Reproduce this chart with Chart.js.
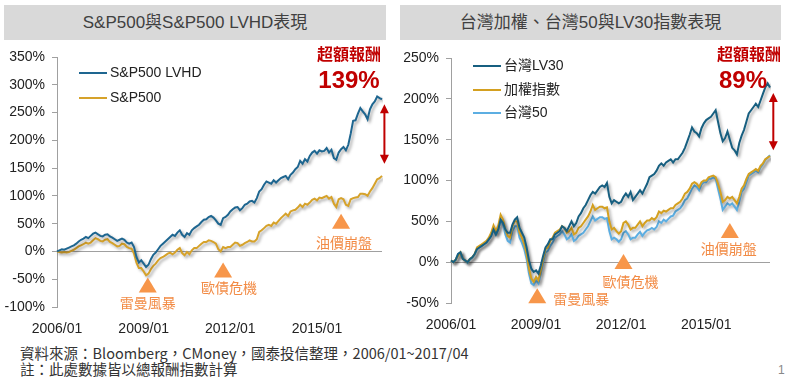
<!DOCTYPE html>
<html>
<head>
<meta charset="utf-8">
<script src="https://cdn.jsdelivr.net/npm/chart.js@4.4.0/dist/chart.umd.min.js"></script>
<style>
  body { margin: 0; background: #fff; width: 786px; height: 377px; position: relative; overflow: hidden;
         font-family: "Liberation Sans", "Noto Sans CJK TC", sans-serif; }
  .title { position: absolute; top: 5px; height: 35px; background: #d9d9d9; color: #404040;
           font-size: 17px; line-height: 35px; text-align: center; }
  canvas { position: absolute; top: 0; }
  .legend { position: absolute; font-size: 14px; color: #222; }
  .legend div { position: absolute; white-space: nowrap; height: 18px; line-height: 18px; }
  .legend span { display: inline-block; width: 28px; height: 2px; vertical-align: middle; margin-right: 3px; }
  .excess { position: absolute; color: #c00000; text-align: center; font-weight: bold; }
  .excess .a { font-family: "Noto Sans CJK TC"; font-size: 16px; line-height: 20px; }
  .excess .b { font-size: 24px; line-height: 28px; margin-top: 3px; }
  .note { position: absolute; left: 20px; font-family: "Noto Sans CJK TC", sans-serif; font-size: 14.5px; color: #333; white-space: nowrap; }
</style>
</head>
<body>
<div class="title" style="left:4px;width:382px">S&amp;P500與S&amp;P500 LVHD表現</div>
<div class="title" style="left:400px;width:381px">台灣加權、台灣50與LV30指數表現</div>
<canvas id="usChart" width="393" height="340" style="left:0"></canvas>
<canvas id="twChart" width="393" height="340" style="left:393px"></canvas>
<div class="legend" id="usLegend" style="left:79px;top:63px"></div>
<div class="legend" id="twLegend" style="left:473px;top:56px"></div>
<div class="excess" style="left:312px;top:43px;width:74px"><div class="a">超額報酬</div><div class="b">139%</div></div>
<div class="excess" style="left:712px;top:43px;width:74px"><div class="a">超額報酬</div><div class="b" style="margin-left:-12px">89%</div></div>
<div class="note" style="top:342px">資料來源：Bloomberg，CMoney，國泰投信整理，2006/01~2017/04</div>
<div class="note" style="top:358px">註：此處數據皆以總報酬指數計算</div>
<div style="position:absolute;left:778px;top:363px;font-size:12px;color:#888">1</div>
<script>
// 月份 2006/01 ~ 2017/04
const months = [];
for (let y = 2006; y <= 2017; y++) {
    for (let m = 1; m <= 12; m++) {
        if (y === 2017 && m > 4) break;
        months.push(y + '/' + String(m).padStart(2, '0'));
    }
}
const xTickLabels = ['2006/01', '2009/01', '2012/01', '2015/01'];

// 美國 (%)
const lvhd = [
    0, 2, 4, 3, 5, 7, 9, 11, 14, 18, 21, 23,
    26, 24, 28, 32, 34, 31, 28, 27, 30, 31, 27, 25,
    22, 19, 21, 23, 21, 16, 14, 16, 8, -10, -20, -16,
    -22, -28, -24, -14, -6, -2, 4, 10, 14, 18, 22, 26,
    30, 28, 34, 38, 30, 26, 33, 30, 38, 42, 45, 48,
    53, 57, 58, 62, 64, 61, 56, 50, 48, 60, 62, 66,
    72, 76, 79, 80, 74, 78, 84, 86, 90, 91, 88, 96,
    108, 112, 120, 126, 124, 122, 128, 124, 128, 132, 134, 136,
    130, 138, 142, 148, 152, 163, 158, 166, 162, 172, 178, 181,
    176, 182, 180, 181, 186, 178, 183, 168, 165, 178, 184, 188,
    182, 192, 212, 235, 236, 248, 258, 252, 247, 238, 256, 265,
    270, 279, 276, 274
];
const sp500 = [
    0, -1, -2, -1, -2, -1, 1, 3, 6, 9, 11, 13,
    16, 14, 16, 20, 24, 22, 19, 18, 21, 22, 17, 15,
    12, 9, 10, 14, 13, 8, 6, 5, -4, -20, -30, -30,
    -36, -43, -40, -32, -26, -22, -16, -12, -10, -7, -4, -2,
    -5, -2, 3, 6, -3, -7, -1, -5, 2, 6, 6, 10,
    14, 17, 17, 20, 19, 17, 14, 4, 0, 8, 6, 8,
    8, 12, 16, 15, 10, 12, 15, 17, 20, 18, 18, 22,
    35, 38, 42, 46, 48, 46, 52, 50, 55, 60, 64, 68,
    64, 72, 74, 75, 79, 84, 80, 86, 84, 88, 93, 95,
    92, 97, 96, 98, 100, 95, 98, 86, 80, 94, 96, 94,
    84, 82, 94, 96, 97, 98, 104, 104, 103, 100, 108, 114,
    122, 130, 132, 136
];

// 台灣 (%)
const twLv30 = [
    2, 0, 3, 10, 12, 4, 2, 0, 4, 6, 10, 16,
    18, 20, 22, 24, 28, 32, 40, 34, 40, 52, 48, 40,
    36, 36, 46, 52, 55, 42, 36, 30, 18, 2, -8, -12,
    -10, -14, -4, 8, 18, 22, 28, 28, 34, 36, 38, 44,
    42, 38, 44, 50, 44, 48, 56, 60, 66, 70, 76, 82,
    86, 84, 88, 92, 94, 92, 97, 80, 72, 76, 74, 72,
    74, 80, 84, 80, 86, 76, 80, 84, 88, 84, 90, 96,
    104, 106, 108, 112, 118, 121, 118, 122, 124, 126, 122, 126,
    126, 130, 134, 140, 148, 156, 165, 160, 158, 154, 164, 170,
    174, 176, 178, 182, 186, 172, 158, 148, 152, 160, 150, 140,
    137, 132, 146, 155, 162, 172, 182, 186, 190, 194, 190, 198,
    206, 214, 219, 214
];
const taiex = [
    2, 0, 3, 8, 12, 4, 2, 0, 4, 6, 10, 18,
    20, 22, 24, 26, 30, 36, 45, 38, 45, 58, 52, 40,
    32, 30, 44, 50, 50, 36, 30, 22, 10, -8, -20, -24,
    -18, -22, -10, 4, 16, 18, 26, 30, 36, 38, 40, 44,
    42, 36, 38, 42, 34, 36, 42, 44, 48, 52, 56, 62,
    70, 64, 66, 68, 68, 66, 67, 50, 40, 42, 38, 35,
    38, 48, 50, 46, 40, 42, 42, 46, 50, 44, 48, 51,
    51, 54, 52, 55, 62, 60, 63, 62, 64, 66, 66, 70,
    72, 74, 78, 84, 86, 90, 96, 98, 96, 92, 98, 100,
    100, 104, 105, 106, 104, 96, 86, 74, 76, 80, 78, 80,
    76, 72, 80, 90, 94, 102, 108, 110, 112, 114, 112, 118,
    121, 126, 128, 130
];
const tw50 = [
    2, 0, 3, 10, 12, 4, 2, -1, 3, 5, 9, 16,
    18, 20, 22, 24, 28, 32, 40, 34, 40, 52, 46, 34,
    26, 24, 38, 44, 44, 30, 24, 16, 4, -14, -26, -28,
    -22, -26, -14, 0, 12, 14, 20, 24, 30, 32, 34, 38,
    34, 28, 30, 34, 26, 28, 32, 34, 36, 40, 44, 50,
    56, 51, 53, 55, 55, 53, 54, 38, 28, 30, 28, 25,
    28, 36, 38, 34, 28, 30, 30, 34, 37, 32, 36, 39,
    40, 42, 40, 43, 50, 48, 52, 50, 53, 56, 57, 62,
    64, 66, 70, 76, 78, 84, 90, 94, 92, 88, 95, 98,
    98, 102, 102, 104, 102, 90, 78, 64, 68, 72, 70, 72,
    68, 64, 74, 86, 90, 98, 106, 108, 110, 112, 110, 116,
    120, 125, 128, 131
];

const usNames = ['S&P500 LVHD', 'S&P500'];
const usColors = ['#1e6690', '#d6a22a'];
const twNames = ['台灣LV30', '加權指數', '台灣50'];
const twColors = ['#175f80', '#d4a020', '#5caee2'];

// 標註 (資料座標)
const usEvents = [
    { text: '雷曼風暴', at: 37.7, value: -47, dx: 0, dy: 25 },
    { text: '歐債危機', at: 69, value: -20, dx: 6, dy: 25 },
    { text: '油價崩盤', at: 118, value: 68, dx: 3, dy: 29 }
];
const twEvents = [
    { text: '雷曼風暴', at: 36.5, value: -32, dx: 44, dy: 10 },
    { text: '歐債危機', at: 73, value: 10, dx: 7, dy: 28 },
    { text: '油價崩盤', at: 118, value: 48, dx: -1, dy: 26 }
];
const usGap = { at: 136, from: 265, to: 158 };
const twGap = { at: 136.4, from: 207, to: 137 };

const tickFont = { family: '"Liberation Sans", Arial, sans-serif', size: 14 };

// 線條陰影
const shadowPlugin = {
    id: 'lineShadow',
    beforeDatasetDraw(chart) {
        const ctx = chart.ctx;
        ctx.save();
        ctx.shadowColor = 'rgba(0,0,0,0.35)';
        ctx.shadowBlur = 3;
        ctx.shadowOffsetX = 2;
        ctx.shadowOffsetY = 2;
    },
    afterDatasetDraw(chart) {
        chart.ctx.restore();
    }
};

// 事件三角形 + 超額報酬箭頭
const markerPlugin = {
    id: 'markers',
    afterDatasetsDraw(chart, args, opts) {
        const { ctx, scales: { x, y } } = chart;
        ctx.save();
        (opts.events || []).forEach(e => {
            const px = x.getPixelForValue(e.at);
            const py = y.getPixelForValue(e.value);
            ctx.fillStyle = '#f7964a';
            ctx.beginPath();
            ctx.moveTo(px, py);
            ctx.lineTo(px + 9, py + 15);
            ctx.lineTo(px - 9, py + 15);
            ctx.closePath();
            ctx.fill();
            ctx.fillStyle = '#f28b45';
            ctx.font = '14px "Noto Sans CJK TC"';
            ctx.textAlign = 'center';
            ctx.textBaseline = 'middle';
            ctx.fillText(e.text, px + e.dx, py + e.dy);
        });
        const g = opts.gap;
        if (g) {
            const px = x.getPixelForValue(g.at);
            const y1 = y.getPixelForValue(g.from);
            const y2 = y.getPixelForValue(g.to);
            ctx.strokeStyle = '#c00000';
            ctx.fillStyle = '#c00000';
            ctx.lineWidth = 2;
            ctx.beginPath();
            ctx.moveTo(px, y1 + 8);
            ctx.lineTo(px, y2 - 8);
            ctx.stroke();
            ctx.beginPath();
            ctx.moveTo(px, y1); ctx.lineTo(px + 4.5, y1 + 9); ctx.lineTo(px - 4.5, y1 + 9); ctx.closePath();
            ctx.fill();
            ctx.beginPath();
            ctx.moveTo(px, y2); ctx.lineTo(px + 4.5, y2 - 9); ctx.lineTo(px - 4.5, y2 - 9); ctx.closePath();
            ctx.fill();
        }
        ctx.restore();
    }
};

function makeChart(id, names, colors, series, yMin, yMax, plotLeft, plotRight, plotTop, plotBottom, events, gap) {
    const canvas = document.getElementById(id);
    return new Chart(canvas.getContext('2d'), {
        type: 'line',
        data: {
            labels: months,
            datasets: series.map((s, i) => ({
                label: names[i],
                data: s,
                borderColor: colors[i],
                borderWidth: 2,
                pointRadius: 0,
                tension: 0,
                fill: false
            }))
        },
        options: {
            responsive: false,
            animation: false,
            layout: { padding: { left: 0, right: canvas.width - plotRight, top: plotTop, bottom: 0 } },
            plugins: {
                legend: { display: false },
                tooltip: { enabled: false },
                markers: { events: events, gap: gap }
            },
            scales: {
                x: {
                    grid: { display: false },
                    border: { display: false },
                    afterFit: s => { s.height = canvas.height - plotBottom; },
                    ticks: {
                        font: tickFont, color: '#222', autoSkip: false, maxRotation: 0, padding: 6,
                        callback: function (v) {
                            const l = this.getLabelForValue(v);
                            return xTickLabels.includes(l) ? l : '';
                        }
                    }
                },
                y: {
                    min: yMin, max: yMax,
                    afterFit: s => { s.width = plotLeft; },
                    border: { display: true, color: '#a0a0a0', width: 1 },
                    grid: {
                        color: c => c.tick.value === 0 ? '#a0a0a0' : 'rgba(0,0,0,0)',
                        tickColor: '#a0a0a0', tickLength: 5, lineWidth: 1
                    },
                    ticks: { stepSize: 50, font: tickFont, color: '#222', padding: 7, callback: v => v + '%' }
                }
            }
        },
        plugins: [shadowPlugin, markerPlugin]
    });
}

makeChart('usChart', usNames, usColors, [lvhd, sp500], -100, 350, 57, 382, 57, 307, usEvents, usGap);
makeChart('twChart', twNames, twColors, [twLv30, taiex, tw50], -50, 250, 58, 377, 58, 303, twEvents, twGap);

// 圖例
function buildLegend(el, names, colors, step) {
    const box = document.getElementById(el);
    names.forEach((n, i) => {
        const d = document.createElement('div');
        d.style.top = (i * step) + 'px';
        d.innerHTML = '<span style="background:' + colors[i] + '"></span>';
        d.appendChild(document.createTextNode(n));
        box.appendChild(d);
    });
}
buildLegend('usLegend', usNames, usColors, 25);
buildLegend('twLegend', twNames, twColors, 23.5);
</script>
</body>
</html>
